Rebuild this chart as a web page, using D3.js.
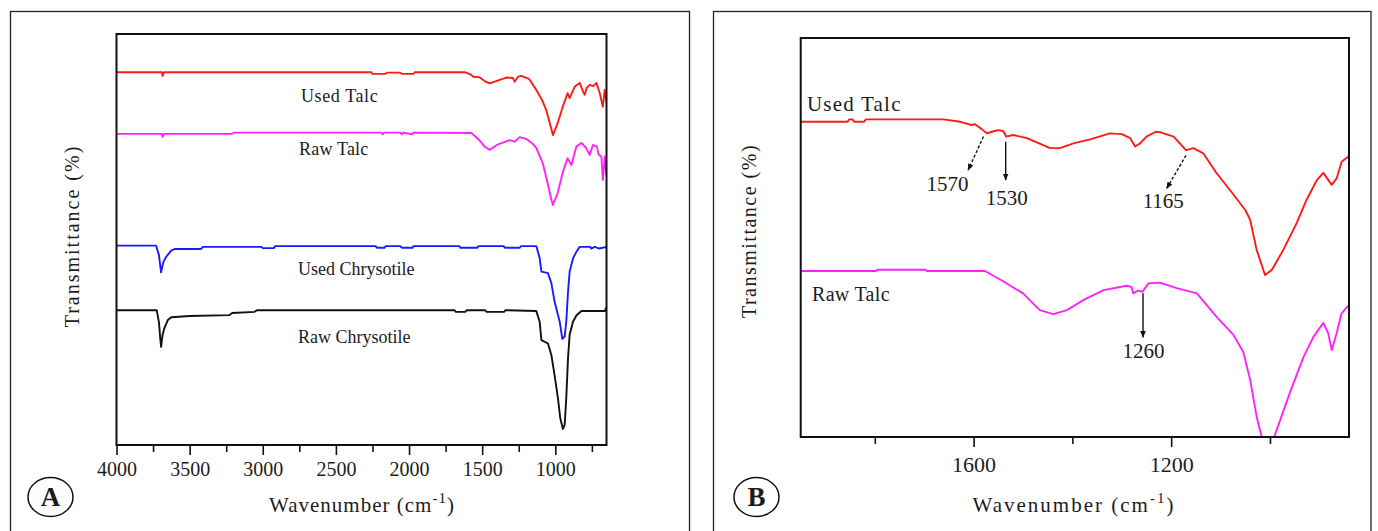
<!DOCTYPE html>
<meta charset="utf-8">
<style>
body { margin: 0; background: #fff; }
svg text { font-family: "Liberation Serif", "Times New Roman", serif; fill: #1c1c1c; }
</style>
<body>
<div id="chart"></div>
<script src="https://cdn.jsdelivr.net/npm/d3@7"></script>
<script>

var W = 1378, H = 531;

// ---- panel A : full range spectra (wavenumber, transmittance a.u.) ----
var ticksA = [4000, 3500, 3000, 2500, 2000, 1500, 1000];
var minorA = [3750, 3250, 2750, 2250, 1750, 1250, 750];

var usedTalcA = [[4000,90.7],[3690,90.7],[3685,89.8],[3675,90.7],[2260,90.7],[2250,90.3],[2160,90.3],[2150,90.6],
  [2060,90.6],[2050,90.3],[1970,90.3],[1960,90.7],[1620,90.7],[1580,90.2],[1560,89.6],[1520,89.5],[1480,88.5],
  [1449,88.0],[1400,88.6],[1335,89.4],[1290,89.3],[1278,88.4],[1255,89.6],[1233,89.8],[1180,89.1],[1130,86.4],
  [1090,83.9],[1062,81.5],[1040,78.6],[1016,75.4],[984,78.3],[950,82.2],[916,85.6],[902,84.4],[867,87.2],
  [833,88.1],[815,86.4],[799,85.2],[785,86.9],[765,87.6],[740,87.3],[719,88.1],[696,85.6],[675,82.3],
  [662,86.4],[650,83.5]];

var rawTalcA = [[4000,75.7],[3690,75.7],[3685,75.0],[3675,75.7],[3210,75.7],[3200,76.0],[2190,76.0],[2180,75.6],
  [2170,76.0],[2060,76.0],[2050,75.6],[2040,76.0],[1980,75.6],[1970,76.0],[1574,75.9],[1520,74.2],[1480,72.5],
  [1449,71.8],[1400,73.0],[1312,74.2],[1278,73.8],[1244,74.9],[1200,74.5],[1160,73.5],[1130,72.3],[1086,68.6],
  [1052,63.7],[1030,60.1],[1016,58.4],[984,61.3],[950,66.2],[916,69.8],[890,68.1],[856,72.6],[822,73.5],
  [790,72.3],[765,70.6],[743,73.0],[716,72.6],[703,70.6],[685,70.2],[675,64.5],[662,70.2],[650,65.7]];

var usedChrysA = [[4000,48.5],[3729,48.5],[3710,46.2],[3695,42.0],[3680,44.5],[3660,45.8],[3626,47.3],[3600,47.7],
  [3421,47.7],[3410,48.2],[3010,48.2],[3000,47.9],[2925,47.9],[2915,48.4],[2228,48.4],[2220,48.0],[2167,48.0],
  [2160,48.4],[2060,48.4],[2050,48.0],[1976,48.0],[1970,48.4],[1656,48.4],[1650,48.0],[1533,48.0],[1525,48.4],
  [1353,48.4],[1345,48.0],[1243,48.0],[1235,48.4],[1130,48.4],[1107,45.5],[1095,42.2],[1050,41.8],[1027,39.4],
  [1005,34.9],[970,30.0],[952,25.8],[936,26.4],[925,30.0],[913,37.3],[902,42.2],[879,45.4],[856,47.0],
  [833,48.2],[760,48.2],[755,47.8],[730,48.2],[700,47.8],[650,48.2]];

var rawChrysA = [[4000,32.8],[3725,32.8],[3710,29.9],[3700,25.5],[3695,23.9],[3685,26.8],[3672,28.5],[3649,30.4],
  [3626,31.1],[3500,31.4],[3227,31.6],[3210,32.1],[3056,32.4],[3040,32.8],[1690,32.8],[1680,32.4],[1615,32.4],
  [1605,32.8],[1480,32.8],[1470,32.4],[1350,32.4],[1340,32.8],[1130,32.6],[1107,30.0],[1095,25.5],[1050,24.7],
  [1027,21.9],[1005,17.0],[982,11.4],[966,6.5],[948,3.9],[936,4.9],[925,11.4],[913,21.2],[902,26.8],[879,30.0],
  [856,31.5],[822,32.6],[660,32.6],[655,33.3],[650,32.6]];

// ---- panel B : 1950-840 cm-1 detail ----
var ticksB = [1600, 1200];
var minorB = [1800, 1400, 1000];

var usedTalcB = [[1950,79.0],[1855,79.0],[1852,79.6],[1845,79.6],[1842,79.0],[1822,79.0],[1818,79.6],[1661,79.6],
  [1627,79.0],[1604,78.2],[1597,78.4],[1583,77.1],[1573,76.1],[1563,76.5],[1550,76.9],[1540,76.7],[1534,75.3],
  [1520,75.7],[1492,74.9],[1445,72.4],[1425,72.4],[1398,73.6],[1364,74.6],[1324,76.1],[1300,75.9],[1283,74.9],
  [1273,72.8],[1263,73.6],[1250,75.3],[1231,76.5],[1223,76.4],[1195,75.3],[1170,71.9],[1155,72.4],[1135,71.1],
  [1108,66.1],[1081,61.9],[1050,56.9],[1040,54.4],[1027,46.9],[1010,40.6],[996,41.9],[973,46.9],[946,53.6],
  [926,59.4],[905,64.4],[892,66.2],[875,63.2],[865,64.8],[855,69.0],[840,70.4]];

var rawTalcB = [[1950,41.6],[1797,41.6],[1795,41.9],[1697,41.9],[1695,41.6],[1577,41.6],[1541,39.1],[1500,36.0],
  [1466,31.8],[1439,30.8],[1411,31.8],[1378,34.3],[1337,36.8],[1290,37.9],[1280,37.6],[1277,36.0],[1267,36.7],
  [1258,36.4],[1246,38.5],[1223,38.7],[1189,37.3],[1148,36.0],[1108,30.1],[1074,25.6],[1054,21.3],[1040,14.3],
  [1027,5.1],[1017,0.2],[1003,-5.8],[990,0.5],[960,11.0],[932,20.1],[912,25.1],[892,28.6],[882,26.0],[875,21.8],
  [865,26.0],[855,31.0],[840,33.1]];

var peakLabels = ["1570", "1530", "1165", "1260"];
var peakWn = [1570, 1530, 1165, 1260];

var svg = d3.select("#chart").append("svg").attr("width", W).attr("height", H);

// outer frames (bottom edge runs off the picture)
svg.append("rect").attr("x", 10.5).attr("y", 11.5).attr("width", 679).attr("height", 540)
  .attr("fill", "none").attr("stroke", "#222").attr("stroke-width", 1.3);
svg.append("rect").attr("x", 713.5).attr("y", 11.5).attr("width", 657.5).attr("height", 540)
  .attr("fill", "none").attr("stroke", "#222").attr("stroke-width", 1.3);

function drawPanel(p) {
  var x = d3.scaleLinear().domain(p.xdom).range([p.left, p.right]);
  var y = d3.scaleLinear().domain([0, 100]).range([p.bottom, p.top]);
  var g = svg.append("g");

  g.append("clipPath").attr("id", "clip" + p.id).append("rect")
    .attr("x", p.left).attr("y", p.top).attr("width", p.right - p.left).attr("height", p.bottom - p.top);

  var line = d3.line().x(function(d){ return x(d[0]); }).y(function(d){ return y(d[1]); });
  p.series.forEach(function(s){
    g.append("path").datum(s.data).attr("d", line)
      .attr("clip-path", "url(#clip" + p.id + ")")
      .attr("fill", "none").attr("stroke", s.color).attr("stroke-width", 1.9)
      .attr("stroke-linejoin", "round");
  });

  // x axis with major + minor ticks
  var ax = d3.axisBottom(x).tickValues(p.ticks).tickSize(10).tickSizeOuter(0).tickFormat(d3.format("d"));
  var axg = g.append("g").attr("transform", "translate(0," + p.bottom + ")").call(ax);
  axg.select(".domain").remove();
  axg.selectAll("line").attr("stroke", "#111").attr("stroke-width", 1.6);
  axg.selectAll("text").attr("font-size", p.tickFont).attr("dy", 0).attr("y", p.tickDy)
    .style("font-family", "'Liberation Serif', serif").attr("fill", "#1c1c1c");
  var mx = d3.axisBottom(x).tickValues(p.minor).tickSize(7).tickFormat("");
  var mg = g.append("g").attr("transform", "translate(0," + p.bottom + ")").call(mx);
  mg.select(".domain").remove();
  mg.selectAll("line").attr("stroke", "#111").attr("stroke-width", 1.6);

  // plot box
  g.append("rect").attr("x", p.left).attr("y", p.top)
    .attr("width", p.right - p.left).attr("height", p.bottom - p.top)
    .attr("fill", "none").attr("stroke", "#111").attr("stroke-width", 2);

  // axis titles
  var xt = g.append("text").attr("x", p.xlab[0]).attr("y", p.xlab[1]).attr("text-anchor", "middle")
    .attr("font-size", 21).attr("letter-spacing", p.xlabSpace);
  xt.append("tspan").text("Wavenumber (cm");
  xt.append("tspan").attr("dy", -9).attr("font-size", 15).text("-1");
  xt.append("tspan").attr("dy", 9).text(")");

  g.append("text").attr("transform", "translate(" + p.ylab[0] + "," + p.ylab[1] + ") rotate(-90)")
    .attr("text-anchor", "middle").attr("font-size", 20).attr("letter-spacing", p.ylabSpace)
    .text("Transmittance (%)");

  // series labels
  p.labels.forEach(function(l){
    g.append("text").attr("x", l[1]).attr("y", l[2]).attr("font-size", l[3])
      .attr("letter-spacing", l[4] || 0).text(l[0]);
  });

  // panel letter
  g.append("ellipse").attr("cx", p.badge[0]).attr("cy", p.badge[1]).attr("rx", 22.5).attr("ry", 19.5)
    .attr("fill", "#fff").attr("stroke", "#111").attr("stroke-width", 1.5);
  g.append("text").attr("x", p.badge[0]).attr("y", p.badge[1] + 9).attr("text-anchor", "middle")
    .attr("font-size", 27).attr("font-weight", "bold").attr("fill", "#111").text(p.id);

  return {x: x, y: y, g: g};
}

var A = drawPanel({
  id: "A", left: 116.5, right: 606.5, top: 34, bottom: 445, xdom: [4000, 650],
  ticks: ticksA, minor: minorA, tickFont: 20, tickDy: 31,
  xlab: [362, 512], xlabSpace: 1, ylab: [79, 236], ylabSpace: 2, badge: [50.5, 497],
  series: [
    {data: usedTalcA, color: "#ff1a1a"},
    {data: rawTalcA, color: "#ff22ff"},
    {data: usedChrysA, color: "#1a1aff"},
    {data: rawChrysA, color: "#111"}
  ],
  labels: [["Used Talc", 301, 102, 18, 0.6], ["Raw Talc", 299, 155, 18, 0.2],
           ["Used Chrysotile", 298, 275, 18, 0], ["Raw Chrysotile", 298, 343, 18, 0]]
});

var B = drawPanel({
  id: "B", left: 800.7, right: 1349, top: 38, bottom: 437, xdom: [1950, 840],
  ticks: ticksB, minor: minorB, tickFont: 22, tickDy: 35,
  xlab: [1074, 512], xlabSpace: 2, ylab: [756, 231], ylabSpace: 1.5, badge: [756.5, 497],
  series: [
    {data: usedTalcB, color: "#ff1a1a"},
    {data: rawTalcB, color: "#ff22ff"}
  ],
  labels: [["Used Talc", 807, 111, 21, 1.2], ["Raw Talc", 812, 301, 20, 0.3]]
});

// peak annotations in panel B (arrow tail wn/T, head wn/T, text centre wn)
var defs = svg.append("defs");
defs.append("marker").attr("id", "ah").attr("viewBox", "0 0 10 10").attr("refX", 9).attr("refY", 5)
  .attr("markerWidth", 5).attr("markerHeight", 5).attr("orient", "auto")
  .append("path").attr("d", "M0,1 L10,5 L0,9 Z").attr("fill", "#111");

var arrows = [
  {t: [1580, 75.3], h: [1611, 66.9], dash: "3,2", tx: 1653, ty: 191},
  {t: [1535, 74.0], h: [1535, 64.4], dash: null, tx: 1533, ty: 205},
  {t: [1170, 70.6], h: [1209, 62.3], dash: "3,2", tx: 1216, ty: 208},
  {t: [1257, 36.0], h: [1257, 25.0], dash: null, tx: 1256, ty: 358}
];
arrows.forEach(function(a, i){
  B.g.append("line").attr("x1", B.x(a.t[0])).attr("y1", B.y(a.t[1]))
    .attr("x2", B.x(a.h[0])).attr("y2", B.y(a.h[1]))
    .attr("stroke", "#111").attr("stroke-width", 1.4)
    .attr("stroke-dasharray", a.dash).attr("marker-end", "url(#ah)");
  B.g.append("text").attr("x", B.x(a.tx)).attr("y", a.ty).attr("text-anchor", "middle")
    .attr("font-size", 21).text(peakLabels[i]);
});

</script>
</body>
